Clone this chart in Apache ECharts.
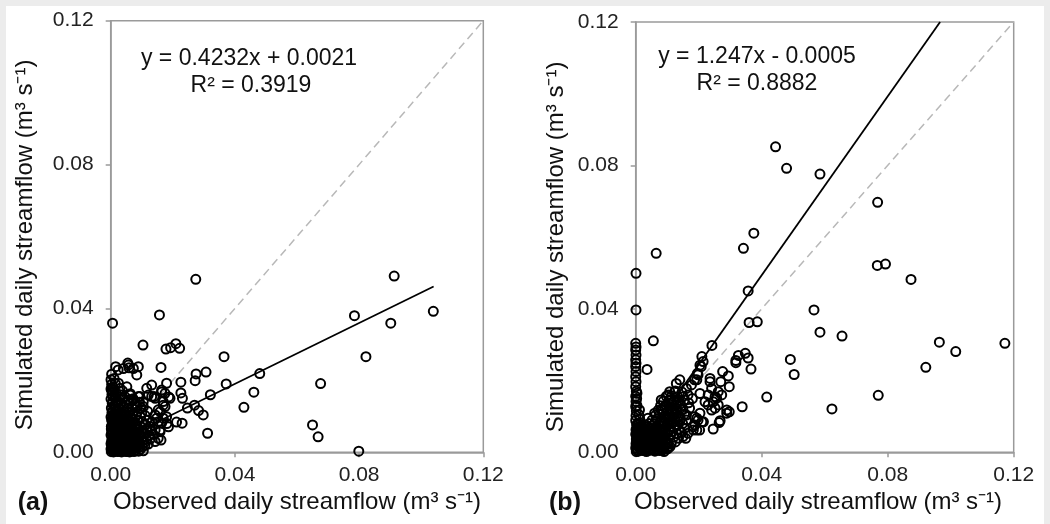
<!DOCTYPE html>
<html><head><meta charset="utf-8">
<script src="https://cdn.jsdelivr.net/npm/echarts/dist/echarts.min.js"></script>
<style>
html,body{margin:0;padding:0;background:#ececec;}
#bg{position:absolute;left:6px;top:6px;width:1038px;height:518px;background:#fff;}
#main{position:absolute;left:0;top:0;width:1050px;height:524px;}
</style></head><body><div id="bg"></div><div id="main"></div>
<script>
// ---- axis / text ----
const axisMin = 0, axisMax = 0.12, axisStep = 0.04;
const xTitle = 'Observed daily streamflow (m³ s⁻¹)';
const yTitle = 'Simulated daily streamflow (m³ s⁻¹)';
const panelLabels = ['(a)', '(b)'];
const eqA = ['y = 0.4232x + 0.0021', 'R² = 0.3919'];
const eqB = ['y = 1.247x - 0.0005', 'R² = 0.8882'];
// regression [slope, intercept] and x-extent of the drawn fit line
const fitA = [0.4232, 0.0021];
const fitB = [1.247, -0.0005];
const fitXEndA = 0.104;
const oneToOne = [[0, 0], [0.12, 0.12]];

// ---- panel (a): observed vs simulated ----
const pointsA = [
 [0.0006,0.0359],[0.0274,0.0481],[0.0157,0.0382],[0.0913,0.0490],[0.1039,0.0392],[0.0785,0.0380],[0.0902,0.0359],
 [0.0822,0.0266],[0.0676,0.0191],[0.0650,0.0076],[0.0668,0.0043],[0.0799,0.0003],[0.0480,0.0219],[0.0461,0.0167],
 [0.0429,0.0125],[0.0372,0.0190],[0.0365,0.0266],[0.0321,0.0160],[0.0312,0.0053],[0.0307,0.0223],[0.0275,0.0218],
 [0.0272,0.0199],[0.0298,0.0104],[0.0283,0.0116],[0.0270,0.0131],[0.0247,0.0123],[0.0230,0.0081],[0.0212,0.0084],
 [0.0231,0.0150],[0.0226,0.0165],[0.0226,0.0195],[0.0222,0.0289],[0.0210,0.0302],[0.0193,0.0291],[0.0178,0.0287],
 [0.0162,0.0236],[0.0104,0.0298],[0.0187,0.0154],[0.0181,0.0080],[0.0186,0.0071],[0.0143,0.0030],[0.0162,0.0034],
 [0.0153,0.0039],
 [0.0003,0.0173],[0.0025,0.0192],[0.0030,0.0178],[0.0052,0.0182],[0.0046,0.0155],[0.0062,0.0159],[0.0073,0.0145],
 [0.0089,0.0155],[0.0105,0.0141],[0.0116,0.0178],[0.0121,0.0159],[0.0132,0.0155],[0.0143,0.0150],[0.0164,0.0173],
 [0.0175,0.0164],[0.0180,0.0192],[0.0169,0.0131],[0.0159,0.0113],[0.0143,0.0104],[0.0153,0.0085],[0.0169,0.0095],
 [0.0143,0.0062],[0.0159,0.0057],
 [0.0016,0.0238],[0.0024,0.0229],[0.0041,0.0233],[0.0057,0.0243],[0.0059,0.0235],[0.0073,0.0233],[0.0089,0.0238],
 [0.0084,0.0215],[0.0003,0.0217],[0.0055,0.0248],
 [0.0132,0.0187],[0.0164,0.0168],[0.0191,0.0150],[0.0140,0.0155],[0.0169,0.0141],[0.0094,0.0155],[0.0105,0.0127],
 [0.0153,0.0118],[0.0175,0.0127],[0.0180,0.0099],[0.0148,0.0095],[0.0164,0.0081],[0.0127,0.0062],[0.0159,0.0062],
 [0.0002,0.0002],[0.0012,0.0004],[0.0025,0.0003],[0.0038,0.0005],[0.0051,0.0002],[0.0066,0.0004],[0.0080,0.0006],
 [0.0005,0.0012],[0.0018,0.0014],[0.0030,0.0011],[0.0044,0.0015],[0.0058,0.0013],[0.0072,0.0016],[0.0088,0.0012],[0.0102,0.0015],
 [0.0001,0.0024],[0.0011,0.0026],[0.0023,0.0023],[0.0036,0.0027],[0.0049,0.0025],[0.0063,0.0022],[0.0077,0.0026],[0.0093,0.0024],[0.0108,0.0027],[0.0121,0.0023],
 [0.0004,0.0036],[0.0016,0.0038],[0.0029,0.0035],[0.0042,0.0039],[0.0056,0.0036],[0.0069,0.0038],[0.0084,0.0035],[0.0099,0.0039],[0.0115,0.0036],[0.0128,0.0038],
 [0.0001,0.0048],[0.0013,0.0050],[0.0026,0.0047],[0.0039,0.0051],[0.0052,0.0049],[0.0066,0.0046],[0.0081,0.0050],[0.0095,0.0048],[0.0110,0.0051],[0.0124,0.0047],[0.0137,0.0050],
 [0.0006,0.0060],[0.0019,0.0063],[0.0032,0.0059],[0.0046,0.0062],[0.0060,0.0061],[0.0074,0.0058],[0.0089,0.0063],[0.0104,0.0060],[0.0118,0.0064],[0.0132,0.0059],
 [0.0002,0.0072],[0.0014,0.0075],[0.0027,0.0071],[0.0041,0.0074],[0.0055,0.0073],[0.0069,0.0070],[0.0083,0.0075],[0.0097,0.0072],[0.0113,0.0076],[0.0127,0.0071],
 [0.0005,0.0085],[0.0018,0.0088],[0.0031,0.0084],[0.0044,0.0087],[0.0058,0.0086],[0.0072,0.0083],[0.0087,0.0088],[0.0101,0.0085],[0.0116,0.0089],[0.0133,0.0084],
 [0.0001,0.0098],[0.0013,0.0101],[0.0026,0.0097],[0.0040,0.0100],[0.0054,0.0099],[0.0068,0.0096],[0.0082,0.0101],[0.0096,0.0098],[0.0111,0.0102],
 [0.0004,0.0110],[0.0017,0.0113],[0.0030,0.0109],[0.0043,0.0112],[0.0057,0.0111],[0.0071,0.0108],[0.0086,0.0113],[0.0100,0.0110],[0.0119,0.0114],
 [0.0002,0.0123],[0.0015,0.0126],[0.0028,0.0122],[0.0042,0.0125],[0.0056,0.0124],[0.0070,0.0121],[0.0085,0.0126],[0.0098,0.0123],
 [0.0005,0.0136],[0.0019,0.0139],[0.0033,0.0135],[0.0047,0.0138],[0.0061,0.0137],[0.0078,0.0134],[0.0093,0.0139],
 [0.0001,0.0148],[0.0014,0.0151],[0.0028,0.0147],[0.0041,0.0150],[0.0058,0.0146],[0.0072,0.0149],
 [0.0004,0.0161],[0.0017,0.0164],[0.0031,0.0160],[0.0063,0.0163],
 [0.0001,0.0176],[0.0012,0.0174],[0.0038,0.0171],
 [0.0003,0.0189],[0.0015,0.0191],
 [0.0001,0.0202],[0.0011,0.0205],
 [0.0007,0.0007],[0.0019,0.0008],[0.0032,0.0006],[0.0045,0.0009],[0.0059,0.0007],[0.0073,0.0010],
 [0.0004,0.0019],[0.0017,0.0020],[0.0029,0.0018],[0.0043,0.0021],[0.0056,0.0019],[0.0070,0.0020],[0.0085,0.0018],
 [0.0006,0.0031],[0.0020,0.0032],[0.0033,0.0030],[0.0047,0.0033],[0.0061,0.0031],[0.0076,0.0032],[0.0091,0.0030],
 [0.0008,0.0043],[0.0022,0.0044],[0.0035,0.0042],[0.0049,0.0045],[0.0063,0.0043],[0.0078,0.0042],
 [0.0003,0.0055],[0.0016,0.0056],[0.0029,0.0054],[0.0042,0.0057],[0.0056,0.0055],[0.0071,0.0054],[0.0086,0.0056],
 [0.0009,0.0067],[0.0023,0.0068],[0.0036,0.0066],[0.0050,0.0069],[0.0064,0.0067],[0.0079,0.0066],
 [0.0007,0.0080],[0.0021,0.0081],[0.0035,0.0079],[0.0049,0.0082],[0.0063,0.0080],
 [0.0008,0.0092],[0.0022,0.0093],[0.0036,0.0091],[0.0050,0.0094],
 [0.0009,0.0105],[0.0023,0.0106],[0.0037,0.0104],
 [0.0008,0.0117],[0.0022,0.0118],
 [0.0009,0.0001],[0.0022,0.0002],[0.0035,0.0001],[0.0048,0.0003],[0.0061,0.0001],[0.0075,0.0002],[0.0090,0.0003],[0.0105,0.0004],
 [0.0001,0.0009],[0.0013,0.0010],[0.0026,0.0008],[0.0039,0.0011],[0.0052,0.0009],[0.0066,0.0010],[0.0080,0.0011],[0.0095,0.0008],
 [0.0008,0.0016],[0.0022,0.0017],[0.0035,0.0015],[0.0049,0.0018],[0.0063,0.0016],[0.0078,0.0019],[0.0094,0.0017],[0.0110,0.0019],
 [0.0003,0.0029],[0.0015,0.0029],[0.0027,0.0028],[0.0040,0.0030],[0.0054,0.0029],[0.0068,0.0028],[0.0082,0.0029],[0.0101,0.0031],
 [0.0010,0.0040],[0.0024,0.0041],[0.0038,0.0039],[0.0052,0.0041],[0.0066,0.0040],[0.0081,0.0041],[0.0106,0.0043],
 [0.0005,0.0052],[0.0019,0.0053],[0.0033,0.0051],[0.0047,0.0052],[0.0061,0.0051],[0.0076,0.0052],[0.0092,0.0054],
 [0.0002,0.0065],[0.0012,0.0065],[0.0026,0.0064],[0.0040,0.0066],[0.0054,0.0064],[0.0068,0.0065],[0.0083,0.0064],
 [0.0010,0.0077],[0.0024,0.0078],[0.0038,0.0077],[0.0052,0.0078],[0.0066,0.0077],[0.0080,0.0079],
 [0.0003,0.0090],[0.0015,0.0091],[0.0029,0.0090],[0.0043,0.0091],[0.0057,0.0090],[0.0071,0.0091],
 [0.0006,0.0103],[0.0020,0.0104],[0.0034,0.0103],[0.0048,0.0104],[0.0062,0.0103],
 [0.0011,0.0129],[0.0025,0.0130],[0.0039,0.0129],
 [0.0007,0.0142],[0.0022,0.0143],
 [0.0008,0.0155],[0.0006,0.0168],[0.0007,0.0182]
];

// ---- panel (b): observed vs simulated ----
const pointsB = [
 [0.0444,0.0852],[0.0479,0.0792],[0.0585,0.0776],[0.0768,0.0697],[0.0375,0.0611],[0.0342,0.0569],[0.0065,0.0555],
 [0.0767,0.0521],[0.0793,0.0525],[0.0874,0.0482],[0.0001,0.0499],[0.0001,0.0397],[0.0357,0.0450],[0.0566,0.0397],
 [0.0585,0.0335],[0.0655,0.0324],[0.0964,0.0307],[0.1016,0.0281],[0.1172,0.0304],[0.0921,0.0237],[0.0770,0.0159],
 [0.0623,0.0121],[0.0416,0.0154],[0.0338,0.0127],[0.0360,0.0362],[0.0386,0.0364],[0.0056,0.0311],[0.0491,0.0259],
 [0.0503,0.0217],[0.0366,0.0232],[0.0357,0.0263],[0.0348,0.0276],[0.0318,0.0256],[0.0326,0.0270],[0.0318,0.0250],
 [0.0036,0.0231],[0.0242,0.0298],
 [0.0276,0.0225],[0.0294,0.0213],[0.0297,0.0183],[0.0270,0.0197],[0.0236,0.0206],[0.0236,0.0197],[0.0241,0.0178],
 [0.0262,0.0169],[0.0273,0.0160],[0.0252,0.0155],[0.0230,0.0160],[0.0220,0.0141],[0.0230,0.0132],[0.0246,0.0141],
 [0.0257,0.0151],[0.0262,0.0132],[0.0241,0.0118],[0.0252,0.0123],[0.0289,0.0118],[0.0297,0.0113],[0.0268,0.0088],
 [0.0246,0.0065],[0.0215,0.0085],[0.0204,0.0109],[0.0194,0.0095],[0.0188,0.0076],[0.0194,0.0062],[0.0183,0.0062],
 [0.0204,0.0164],[0.0210,0.0267],[0.0204,0.0243],[0.0196,0.0220],[0.0194,0.0202],
 [0.0081,0.0146],[0.0103,0.0160],[0.0124,0.0169],[0.0092,0.0127],[0.0113,0.0137],[0.0134,0.0141],[0.0150,0.0155],
 [0.0161,0.0178],[0.0177,0.0188],[0.0187,0.0202],[0.0198,0.0216],[0.0208,0.0239],[0.0214,0.0253],[0.0145,0.0118],
 [0.0161,0.0104],[0.0171,0.0123],[0.0187,0.0099],[0.0198,0.0090],[0.0182,0.0071],[0.0203,0.0062],[0.0166,0.0053],
 [0.0150,0.0044],[0.0113,0.0025],[0.0103,0.0011],[0.0129,0.0192],[0.0140,0.0202],[0.0081,0.0118],[0.0060,0.0109],
 [0.0039,0.0095],[0.0124,0.0095],[0.0103,0.0081],[0.0081,0.0062],[0.0109,0.0016],[0.0210,0.0085],[0.0265,0.0083],
 [0.0289,0.0109],[0.0159,0.0039],
 [0.0000,0.0304],[0.0001,0.0294],[0.0000,0.0285],[0.0001,0.0271],[0.0000,0.0258],[0.0001,0.0248],[0.0000,0.0239],
 [0.0001,0.0225],[0.0000,0.0211],[0.0001,0.0197],[0.0000,0.0183],[0.0002,0.0170],[0.0000,0.0156],[0.0001,0.0142],
 [0.0000,0.0128],[0.0002,0.0115],[0.0001,0.0102],[0.0000,0.0089],[0.0003,0.0076],[0.0001,0.0063],[0.0000,0.0050],
 [0.0002,0.0037],[0.0001,0.0024],[0.0000,0.0012],[0.0002,0.0002],
 [0.0012,0.0118],[0.0010,0.0105],[0.0013,0.0092],[0.0009,0.0079],
 [0.0004,0.0130],[0.0003,0.0150],[0.0004,0.0165],
 [0.0008,0.0003],[0.0021,0.0005],[0.0034,0.0002],[0.0047,0.0006],[0.0061,0.0003],[0.0075,0.0005],[0.0090,0.0002],
 [0.0011,0.0015],[0.0024,0.0017],[0.0037,0.0014],[0.0050,0.0018],[0.0064,0.0016],[0.0078,0.0013],[0.0093,0.0018],
 [0.0006,0.0027],[0.0019,0.0030],[0.0032,0.0026],[0.0045,0.0029],[0.0058,0.0028],[0.0072,0.0025],[0.0086,0.0030],[0.0100,0.0027],[0.0126,0.0029],
 [0.0009,0.0040],[0.0022,0.0042],[0.0035,0.0039],[0.0049,0.0043],[0.0062,0.0041],[0.0076,0.0038],[0.0090,0.0043],[0.0105,0.0040],[0.0120,0.0042],[0.0136,0.0039],
 [0.0005,0.0053],[0.0017,0.0055],[0.0030,0.0052],[0.0044,0.0056],[0.0057,0.0054],[0.0071,0.0051],[0.0086,0.0056],[0.0100,0.0053],[0.0115,0.0057],[0.0130,0.0052],[0.0146,0.0055],
 [0.0008,0.0065],[0.0021,0.0068],[0.0034,0.0064],[0.0048,0.0067],[0.0062,0.0066],[0.0077,0.0063],[0.0091,0.0068],[0.0106,0.0065],[0.0121,0.0069],[0.0137,0.0064],[0.0155,0.0067],
 [0.0004,0.0078],[0.0016,0.0081],[0.0029,0.0077],[0.0043,0.0080],[0.0058,0.0079],[0.0072,0.0076],[0.0087,0.0081],[0.0102,0.0078],[0.0118,0.0082],[0.0133,0.0077],[0.0149,0.0080],
 [0.0052,0.0090],[0.0067,0.0093],[0.0082,0.0089],[0.0096,0.0094],[0.0111,0.0091],[0.0126,0.0088],[0.0142,0.0093],[0.0161,0.0090],
 [0.0063,0.0103],[0.0077,0.0106],[0.0092,0.0102],[0.0107,0.0107],[0.0121,0.0104],[0.0137,0.0101],[0.0155,0.0106],
 [0.0071,0.0117],[0.0087,0.0119],[0.0101,0.0115],[0.0116,0.0120],[0.0131,0.0116],[0.0150,0.0119],
 [0.0079,0.0130],[0.0096,0.0132],[0.0112,0.0128],[0.0128,0.0133],[0.0144,0.0129],
 [0.0088,0.0143],[0.0106,0.0146],[0.0121,0.0142],[0.0138,0.0145],
 [0.0097,0.0156],[0.0115,0.0158],[0.0133,0.0155],
 [0.0108,0.0169],[0.0126,0.0171],[0.0147,0.0168],
 [0.0014,0.0009],[0.0027,0.0010],[0.0041,0.0008],[0.0054,0.0011],[0.0068,0.0009],[0.0083,0.0010],
 [0.0013,0.0021],[0.0026,0.0023],[0.0040,0.0021],[0.0053,0.0022],[0.0067,0.0020],[0.0081,0.0023],
 [0.0015,0.0034],[0.0028,0.0035],[0.0042,0.0033],[0.0055,0.0036],[0.0069,0.0034],[0.0083,0.0035],
 [0.0011,0.0047],[0.0024,0.0048],[0.0038,0.0046],[0.0051,0.0049],[0.0065,0.0047],[0.0079,0.0048],
 [0.0014,0.0060],[0.0027,0.0061],[0.0041,0.0059],[0.0055,0.0062],[0.0069,0.0060],
 [0.0004,0.0007],[0.0017,0.0008],[0.0030,0.0007],[0.0044,0.0009],[0.0057,0.0007],[0.0071,0.0008],[0.0086,0.0007],[0.0099,0.0009],
 [0.0005,0.0020],[0.0018,0.0021],[0.0031,0.0019],[0.0045,0.0021],[0.0059,0.0020],[0.0073,0.0019],[0.0088,0.0021],[0.0102,0.0022],
 [0.0003,0.0033],[0.0010,0.0033],[0.0024,0.0032],[0.0038,0.0034],[0.0052,0.0033],[0.0065,0.0031],[0.0079,0.0033],[0.0095,0.0034],
 [0.0004,0.0046],[0.0016,0.0046],[0.0030,0.0045],[0.0044,0.0047],[0.0058,0.0046],[0.0072,0.0045],[0.0087,0.0047],[0.0110,0.0048],
 [0.0003,0.0059],[0.0009,0.0059],[0.0022,0.0060],[0.0036,0.0058],[0.0050,0.0060],[0.0063,0.0059],[0.0078,0.0060],[0.0094,0.0061],
 [0.0012,0.0072],[0.0025,0.0073],[0.0039,0.0071],[0.0053,0.0073],[0.0067,0.0072],[0.0082,0.0073],[0.0098,0.0072],
 [0.0090,0.0085],[0.0105,0.0097],[0.0118,0.0110],[0.0130,0.0122],[0.0142,0.0135],[0.0154,0.0146],[0.0166,0.0160],
 [0.0112,0.0080],[0.0126,0.0076],[0.0140,0.0085],[0.0168,0.0138],[0.0180,0.0150]
];

const FONT = '"Liberation Sans", Arial, sans-serif';
const GRAY = '#9a9a9a';
function fitLine(fit, xEnd) {
  const m = fit[0], b = fit[1];
  const x1 = Math.min(xEnd, (axisMax - b) / m);
  return [[axisMin, m * axisMin + b], [x1, m * x1 + b]];
}
function axis(idx) {
  return {
    type: 'value', gridIndex: idx, min: axisMin, max: axisMax, interval: axisStep,
    axisLine: { show: true, lineStyle: { color: GRAY, width: 1.5 } },
    axisTick: { show: true, length: 5, lineStyle: { color: GRAY, width: 1.5 } },
    splitLine: { show: false },
    axisLabel: { formatter: v => v.toFixed(2), fontSize: 21, color: '#222', fontFamily: FONT, margin: 17 }
  };
}
const xAx = [axis(0), axis(1)]; xAx.forEach(a => a.axisLabel.margin = 12);
const grids = [
  { left: 110.7, top: 20.7, right: 566.7, bottom: 71.7 },
  { left: 635.7, top: 22, right: 36.3, bottom: 71.7 }
].map(g => Object.assign(g, { show: true, borderColor: GRAY, borderWidth: 1.5, backgroundColor: 'transparent' }));

function scatter(idx, data) {
  return { type: 'scatter', xAxisIndex: idx, yAxisIndex: idx, data, symbol: 'circle', symbolSize: 9,
    itemStyle: { color: 'rgba(255,255,255,0)', borderColor: '#000', borderWidth: 2, opacity: 1 }, z: 3, silent: true,
    large: false, progressive: 0 };
}
function line(idx, data, style, z) {
  return { type: 'line', xAxisIndex: idx, yAxisIndex: idx, data, symbol: 'none', lineStyle: style, z, silent: true };
}
function txt(x, y, text, size, extra) {
  return Object.assign({ type: 'text', x, y, silent: true,
    style: Object.assign({ text, fontSize: size, fontFamily: FONT, fill: '#111', align: 'center', verticalAlign: 'middle' }, extra || {}) });
}
const dashStyle = { color: '#b8b8b8', width: 1.5, type: [8, 5] };
const solidStyle = { color: '#000', width: 1.8 };

const option = {
  animation: false,
  grid: grids,
  xAxis: xAx,
  yAxis: [axis(0), axis(1)],
  series: [
    line(0, oneToOne, dashStyle, 2),
    line(1, oneToOne, dashStyle, 2),
    scatter(0, pointsA),
    scatter(1, pointsB),
    line(0, fitLine(fitA, fitXEndA), solidStyle, 4),
    line(1, fitLine(fitB, axisMax), solidStyle, 4)
  ],
  graphic: [
    txt(249, 59, eqA[0], 23), txt(251, 86, eqA[1], 23),
    txt(757, 57, eqB[0], 23), txt(757, 84, eqB[1], 23),
    txt(297, 502, xTitle, 24), txt(818, 502, xTitle, 24),
    Object.assign(txt(25, 245, yTitle, 24), { rotation: Math.PI / 2 }),
    Object.assign(txt(556, 247, yTitle, 24), { rotation: Math.PI / 2 }),
    txt(33, 503, panelLabels[0], 25, { fontWeight: 'bold' }),
    txt(565, 503, panelLabels[1], 25, { fontWeight: 'bold' })
  ]
};
const chart = echarts.init(document.getElementById('main'), null, { renderer: 'canvas' });
chart.setOption(option);
</script></body></html>
